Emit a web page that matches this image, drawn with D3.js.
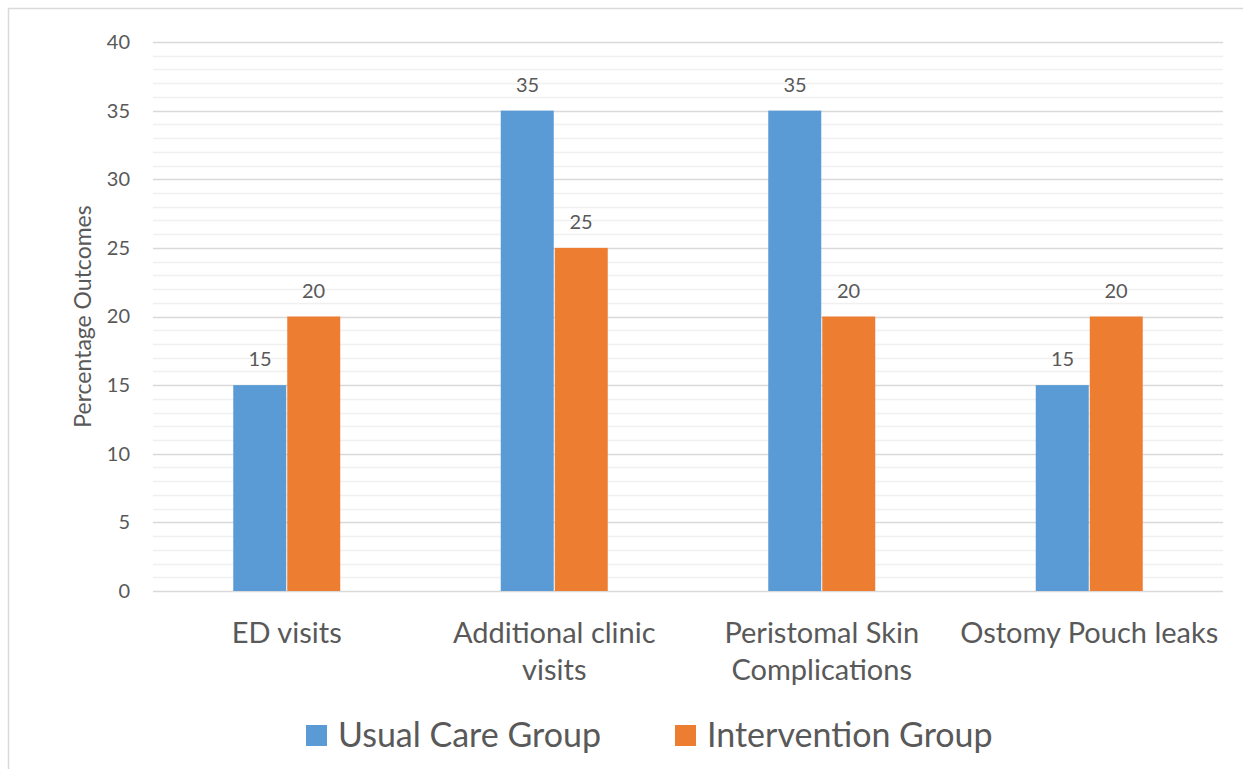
<!DOCTYPE html>
<html>
<head>
<meta charset="utf-8">
<script src="https://cdn.jsdelivr.net/npm/d3@7"></script>
<style>
  body { margin: 0; background: #fff; }
  text { font-family: Lato, "Open Sans", sans-serif; fill: #595959; }
</style>
</head>
<body>
<script>
var W = 1243, H = 769;

var categories = ["ED visits", "Additional clinic visits", "Peristomal Skin Complications", "Ostomy Pouch leaks"];
var categoryLines = [["ED visits"], ["Additional clinic", "visits"], ["Peristomal Skin", "Complications"], ["Ostomy Pouch leaks"]];
var seriesNames = ["Usual Care Group", "Intervention Group"];
var usualCare = [15, 35, 35, 15];
var intervention = [20, 25, 20, 20];
var yTicks = [0, 5, 10, 15, 20, 25, 30, 35, 40];
var colors = ["#5b9bd5", "#ed7d31"];

var series = [usualCare, intervention];

var plotLeft = 153, plotRight = 1223, plotTop = 42, plotBottom = 591;

var svg = d3.select("body").append("svg")
    .attr("width", W)
    .attr("height", H);

// outer frame
svg.append("rect")
    .attr("x", 8.5).attr("y", 8.5)
    .attr("width", W).attr("height", H)
    .attr("fill", "none")
    .attr("stroke", "#d9d9d9")
    .attr("stroke-width", 1.5);

var x = d3.scaleBand()
    .domain(categories)
    .range([plotLeft, plotRight])
    .paddingInner(0)
    .paddingOuter(0);

var y = d3.scaleLinear()
    .domain([0, 40])
    .range([plotBottom, plotTop]);

var xs = d3.scaleBand()
    .domain(seriesNames)
    .range([0, x.bandwidth()])
    .paddingInner(0)
    .paddingOuter(1.5);

// minor gridlines
svg.append("g").selectAll("line")
    .data(d3.range(0, 41).filter(function(d) { return d % 5 !== 0; }))
    .join("line")
    .attr("x1", plotLeft).attr("x2", plotRight)
    .attr("y1", function(d) { return Math.round(y(d)) + 0.5; })
    .attr("y2", function(d) { return Math.round(y(d)) + 0.5; })
    .attr("stroke", "#f0f0f0")
    .attr("stroke-width", 1.4);

// major gridlines
svg.append("g").selectAll("line")
    .data(yTicks)
    .join("line")
    .attr("x1", plotLeft).attr("x2", plotRight)
    .attr("y1", function(d) { return Math.round(y(d)) + 0.5; })
    .attr("y2", function(d) { return Math.round(y(d)) + 0.5; })
    .attr("stroke", "#d9d9d9")
    .attr("stroke-width", 1.4);

// y axis labels
var yAxis = d3.axisLeft(y).tickValues(yTicks).tickSize(0).tickPadding(23);
var gy = svg.append("g")
    .attr("transform", "translate(" + plotLeft + ",0)")
    .call(yAxis);
gy.select(".domain").remove();
gy.selectAll("text")
    .style("font-size", "20px")
    .style("font-family", "Lato, sans-serif")
    .attr("fill", "#595959");

// bars
var groups = svg.append("g").selectAll("g")
    .data(series)
    .join("g")
    .attr("fill", function(d, i) { return colors[i]; });

groups.selectAll("rect")
    .data(function(d, i) { return d.map(function(v, j) { return {v: v, s: i, c: j}; }); })
    .join("rect")
    .attr("x", function(d) { return x(categories[d.c]) + xs(seriesNames[d.s]) + (d.s === 1 ? 0.5 : 0); })
    .attr("y", function(d) { return y(d.v); })
    .attr("width", function(d) { return xs.bandwidth() - 0.5; })
    .attr("height", function(d) { return y(0) - y(d.v); });

// data labels
groups.selectAll("text")
    .data(function(d, i) { return d.map(function(v, j) { return {v: v, s: i, c: j}; }); })
    .join("text")
    .attr("x", function(d) { return x(categories[d.c]) + xs(seriesNames[d.s]) + xs.bandwidth() / 2; })
    .attr("y", function(d) { return y(d.v) - 19; })
    .attr("text-anchor", "middle")
    .style("font-size", "20px")
    .text(function(d) { return d.v; });

// category labels
var cat = svg.append("g").selectAll("text")
    .data(categories)
    .join("text")
    .attr("x", function(d) { return x(d) + x.bandwidth() / 2; })
    .attr("y", 643)
    .attr("text-anchor", "middle")
    .style("font-size", "29px");
cat.selectAll("tspan")
    .data(function(d, i) { return categoryLines[i]; })
    .join("tspan")
    .attr("x", function() { return d3.select(this.parentNode).attr("x"); })
    .attr("dy", function(d, i) { return i === 0 ? 0 : 37; })
    .text(function(d) { return d; });

// y axis title
svg.append("text")
    .attr("transform", "translate(91," + ((plotTop + plotBottom) / 2) + ") rotate(-90)")
    .attr("text-anchor", "middle")
    .style("font-size", "23px")
    .text("Percentage Outcomes");

// legend
var legendX = [306, 675];
var legend = svg.append("g").selectAll("g")
    .data(seriesNames)
    .join("g")
    .attr("transform", function(d, i) { return "translate(" + legendX[i] + ",725)"; });
legend.append("rect")
    .attr("width", 21).attr("height", 21)
    .attr("fill", function(d, i) { return colors[i]; });
legend.append("text")
    .attr("x", 32)
    .attr("y", 22)
    .style("font-size", "34px")
    .text(function(d) { return d; });
</script>
</body>
</html>
